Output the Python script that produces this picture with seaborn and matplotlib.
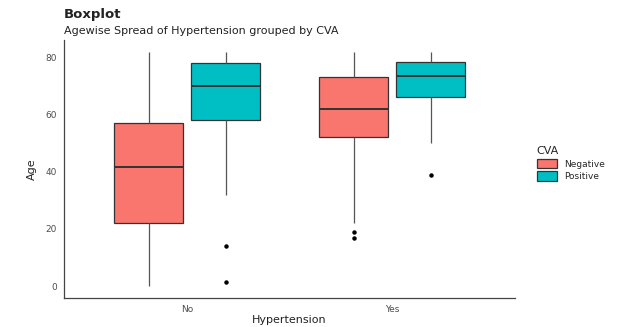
import pandas as pd
import matplotlib.pyplot as plt
import seaborn as sns

# ages (min/quartiles/median/max + outliers)
ages_no_negative = [0, 10, 22, 30, 41.5, 50, 57, 70, 82]
ages_no_positive = [1.4, 14, 32, 58, 62, 66, 70, 73, 76, 78, 80, 81, 82]
ages_yes_negative = [17, 19, 22, 52, 55, 58, 62, 65, 70, 73, 76, 79, 82]
ages_yes_positive = [39, 50, 66, 70, 73.5, 76, 78.5, 80, 82]

hypertension_levels = ["No", "Yes"]
cva_levels = ["Negative", "Positive"]
cva_colors = ["#F8766D", "#00BFC4"]

rows = []
for hyp, cva, ages in [("No", "Negative", ages_no_negative),
                       ("No", "Positive", ages_no_positive),
                       ("Yes", "Negative", ages_yes_negative),
                       ("Yes", "Positive", ages_yes_positive)]:
    for a in ages:
        rows.append({"Hypertension": hyp, "CVA": cva, "Age": a})
df = pd.DataFrame(rows)

sns.set_style("white")
plt.rcParams['font.family'] = ['DejaVu Sans']

fig = plt.figure(figsize=(6.29, 3.27), dpi=100)
ax = fig.add_axes([0.102, 0.089, 0.717, 0.789])

sns.boxplot(data=df, x="Hypertension", y="Age", hue="CVA",
            order=hypertension_levels, hue_order=cva_levels,
            palette=cva_colors, width=0.75, gap=0.1, linecolor="#333333",
            linewidth=0.9, whis=1.5, saturation=1, legend=True,
            showcaps=False,
            medianprops={"linewidth": 1.4},
            whiskerprops={"color": "#555555"},
            flierprops={"marker": "o", "markersize": 2.2,
                        "markerfacecolor": "black", "markeredgecolor": "black"},
            ax=ax)

ax.set_xlim(-0.6, 1.6)
ax.set_ylim(-4.1, 86.1)
ax.set_yticks([0, 20, 40, 60, 80])
ax.tick_params(axis="both", labelsize=6.5, colors="#4d4d4d", length=3, width=0.8, pad=2)
for side in ["top", "right"]:
    ax.spines[side].set_visible(False)
for side in ["left", "bottom"]:
    ax.spines[side].set_color("#444444")
    ax.spines[side].set_linewidth(0.9)

ax.set_xlabel("Hypertension", fontsize=8, color="#222222", labelpad=1)
ax.set_ylabel("Age", fontsize=8, color="#222222", labelpad=6)

fig.text(0.102, 0.955, "Boxplot", fontsize=9.5, fontweight="bold", color="#222222", va="center")
fig.text(0.102, 0.905, "Agewise Spread of Hypertension grouped by CVA", fontsize=8,
         color="#222222", va="center")

leg = ax.legend(title="CVA", loc="center left", bbox_to_anchor=(1.03, 0.52),
                frameon=False, fontsize=6.5, title_fontsize=8,
                handlelength=2.2, handleheight=1.2, labelspacing=0.3)
leg._legend_box.align = "left"

plt.savefig("out.png", dpi=100)
